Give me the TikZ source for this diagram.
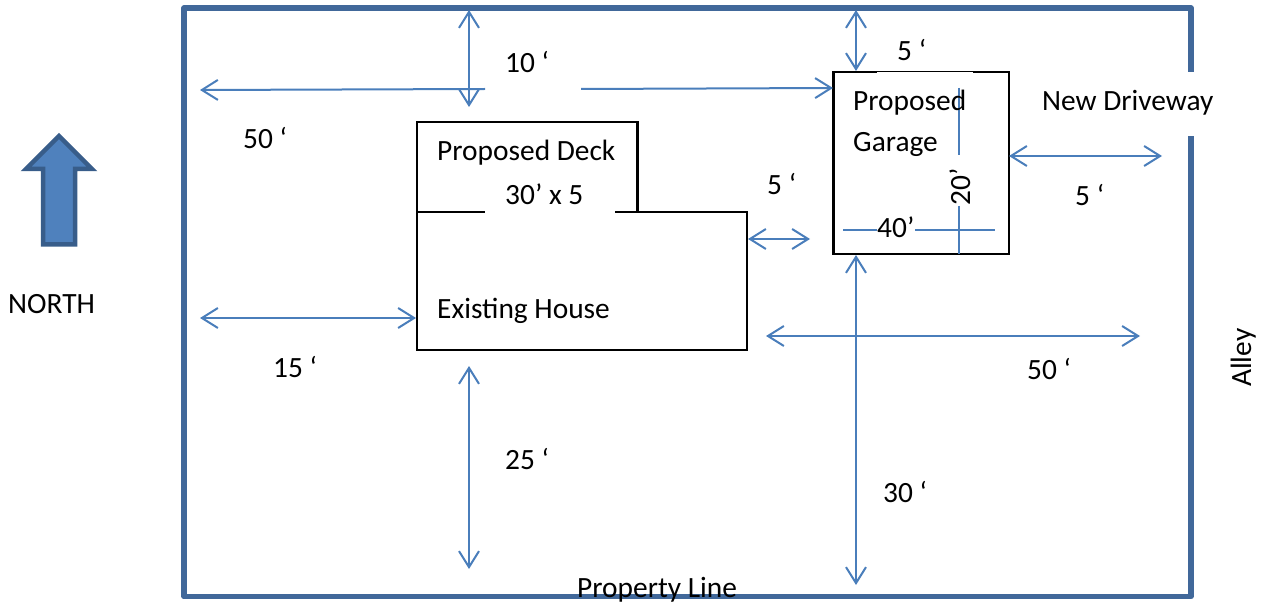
\documentclass[tikz,border=0pt]{standalone}
\usepackage{fontspec}
\setmainfont{Carlito}
\usetikzlibrary{arrows.meta}
\definecolor{dimblue}{HTML}{4A7EBB}
\definecolor{lineblue}{HTML}{41689A}
\definecolor{arrowfill}{HTML}{4F81BD}
\definecolor{arrowline}{HTML}{385D8A}
\tikzset{
  lbl/.style={inner sep=0pt,anchor=base west,font=\fontsize{29.4}{33}\selectfont,text=black},
  room/.style={draw=black,line width=2.5pt,inner sep=0pt,fill=white},
  dimline/.style={draw=dimblue,line width=2pt},
  dimarrow/.style={dimline,{Straight Barb[length=16pt,width=20pt,line width=2pt]}-{Straight Barb[length=16pt,width=20pt,line width=2pt]}},
  dimend/.style={dimline,-{Straight Barb[length=16pt,width=20pt,line width=2pt]}},
}
\begin{document}
\begin{tikzpicture}[x=1pt,y=-1pt]
\useasboundingbox (0,0) rectangle (1270,604);
% property line
\draw[lineblue,line width=5.6pt,line join=round]
  (1191,72) -- (1191,8) -- (184,8) -- (184,596.5) -- (1191,596.5) -- (1191,136);
% buildings
\node[room,minimum width=220.5pt,minimum height=90pt] (deck) at (527,167) {};
\node[room,minimum width=330pt,minimum height=138pt] (house) at (582,281) {};
\node[room,minimum width=175.5pt,minimum height=182pt] (garage) at (921,163) {};
\fill[white] (485,209) rectangle (615,215);
\fill[white] (877,72) rectangle (973,74);
% dimension end points
\coordinate (a1) at (469,10);   \coordinate (a2) at (469,107);
\coordinate (b1) at (856,10);   \coordinate (b2) at (856,71);
\coordinate (c1) at (485,89);   \coordinate (c2) at (200,90);
\coordinate (d1) at (581,89);   \coordinate (d2) at (833,88);
\coordinate (e1) at (200,318);  \coordinate (e2) at (416,318);
\coordinate (f1) at (469,366);  \coordinate (f2) at (469,569);
\coordinate (g1) at (748,239);  \coordinate (g2) at (810,239);
\coordinate (h1) at (766,336);  \coordinate (h2) at (1140,336);
\coordinate (i1) at (856,255);  \coordinate (i2) at (856,585);
\coordinate (j1) at (1009,156); \coordinate (j2) at (1162,156);
\coordinate (k1) at (959,88);   \coordinate (k2) at (959,155);
\coordinate (k3) at (959,206);  \coordinate (k4) at (959,254);
\coordinate (m1) at (843,230);  \coordinate (m2) at (877,230);
\coordinate (m3) at (915,230);  \coordinate (m4) at (995,230);
\draw[dimarrow] (a1) -- (a2);
\draw[dimarrow] (b1) -- (b2);
\draw[dimend] (c1) -- (c2);
\draw[dimend] (d1) -- (d2);
\draw[dimarrow] (e1) -- (e2);
\draw[dimarrow] (f1) -- (f2);
\draw[dimarrow] (g1) -- (g2);
\draw[dimarrow] (h1) -- (h2);
\draw[dimarrow] (i1) -- (i2);
\draw[dimarrow] (j1) -- (j2);
\draw[dimline] (k1) -- (k2);
\draw[dimline] (k3) -- (k4);
\draw[dimline] (m1) -- (m2);
\draw[dimline] (m3) -- (m4);
% north arrow
\draw[fill=arrowfill,draw=arrowline,line width=4.5pt,miter limit=10]
  (59,136) -- (26,169) -- (43,169) -- (43,244.5) -- (75,244.5) -- (75,169) -- (92,169) -- cycle;
% labels
\node[lbl] (tnorth) at (8,314) {NORTH};
\node[lbl] (tdeck) at (437,161) {Proposed Deck};
\node[lbl] (tdecksz) at (505,205) {30’ x 5};
\node[lbl] (thouse) at (437,319) {Existing House};
\node[lbl] (tgar1) at (853,111) {Proposed};
\node[lbl] (tgar2) at (853,152) {Garage};
\node[lbl] (tdrive) at (1042,111) {New Driveway};
\node[lbl] (ttop) at (897,61) {5 ‘};
\node[lbl] (tten) at (505,73) {10 ‘};
\node[lbl] (tfifty) at (243,149) {50 ‘};
\node[lbl] (tfivem) at (767,195) {5 ‘};
\node[lbl] (tfiver) at (1075,206) {5 ‘};
\node[lbl] (tfifteen) at (273,377) {15 ‘};
\node[lbl] (tfiftyr) at (1027,379) {50 ‘};
\node[lbl] (ttwentyfive) at (505,469) {25 ‘};
\node[lbl] (tthirty) at (883,502) {30 ‘};
\node[lbl] (tforty) at (877,238) {40’};
\node[lbl,rotate=90] (ttwenty) at (970,206) {20’};
\node[lbl,rotate=90] (talley) at (1251,387) {Alley};
\node[lbl] (tprop) at (577,597) {Property Line};
\end{tikzpicture}
\end{document}
